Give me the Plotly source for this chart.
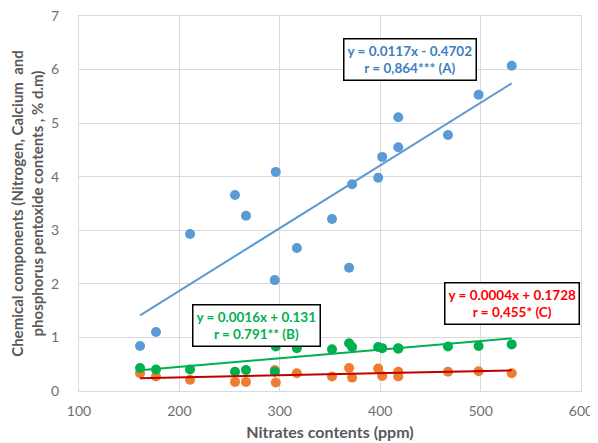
import plotly.graph_objects as go

# Data
nitrates = [160.8, 176.7, 210.6, 255.4, 266.3, 295, 296, 317, 352, 369, 372, 398, 402, 418, 418, 467.5, 498, 531]
nitrogen = [0.84, 1.10, 2.93, 3.66, 3.27, 2.07, 4.09, 2.67, 3.21, 2.30, 3.86, 3.98, 4.37, 4.55, 5.11, 4.78, 5.53, 6.07]
calcium = [0.43, 0.40, 0.40, 0.36, 0.39, 0.36, 0.83, 0.80, 0.78, 0.89, 0.82, 0.82, 0.80, 0.80, 0.79, 0.83, 0.84, 0.87]
phosphorus = [0.33, 0.27, 0.21, 0.17, 0.17, 0.39, 0.16, 0.33, 0.27, 0.43, 0.25, 0.42, 0.28, 0.36, 0.27, 0.36, 0.37, 0.33]

# Trendline coefficients (slope, intercept) as printed on the chart
trend_a = (0.0117, -0.4702)
trend_b = (0.0016, 0.131)
trend_c = (0.0004, 0.1728)

x_ticks = [100, 200, 300, 400, 500, 600]
y_ticks = [0, 1, 2, 3, 4, 5, 6, 7]

BLUE = "#5B9BD5"
ORANGE = "#ED7D31"
GREEN = "#00B050"
DARKRED = "#C00000"
FONT = "Lato"

xmin, xmax = min(nitrates), max(nitrates)
tx = [xmin, xmax]

fig = go.Figure()
for ys, col in [(nitrogen, BLUE), (phosphorus, ORANGE), (calcium, GREEN)]:
    fig.add_trace(go.Scatter(x=nitrates, y=ys, mode="markers",
                             marker=dict(color=col, size=10), showlegend=False))

for (m, b), col in [(trend_a, BLUE), (trend_b, GREEN), (trend_c, DARKRED)]:
    fig.add_trace(go.Scatter(x=tx, y=[m * v + b for v in tx], mode="lines",
                             line=dict(color=col, width=2), showlegend=False))

def box(x, y, text, color):
    fig.add_annotation(x=x, y=y, xref="x", yref="y", text=text, showarrow=False,
                       font=dict(family=FONT, size=13.5, color=color),
                       bgcolor="white", bordercolor="black", borderwidth=1.5,
                       borderpad=3, align="center")

box(430, 6.18, "<b>y = 0.0117x - 0.4702<br>r = 0,864*** (A)</b>", "#3D7FC1")
box(276.8, 1.22, "<b>y = 0.0016x + 0.131<br>r = 0.791** (B)</b>", GREEN)
box(531, 1.64, "<b>y = 0.0004x + 0.1728<br>r = 0,455* (C)</b>", "#FF0000")

grid = "#D9D9D9"
fig.update_layout(
    width=590, height=435,
    margin=dict(l=71, r=17, t=8, b=52),
    paper_bgcolor="white", plot_bgcolor="white",
    font=dict(family=FONT, color="#595959", size=13),
    xaxis=dict(range=[100, 600], tickvals=x_ticks, showgrid=True, gridcolor=grid,
               zeroline=False, showline=True, linecolor=grid, mirror=True,
               automargin=False, ticklabelstandoff=7, ticklabeloverflow="allow",
               tickfont=dict(size=14, color="#6f6f6f"), ticks="",
               title=dict(text="<b>Nitrates contents (ppm)</b>", font=dict(size=16, color="#595959"), standoff=9)),
    yaxis=dict(range=[0, 7], tickvals=y_ticks, showgrid=True, gridcolor=grid,
               zeroline=False, showline=True, linecolor=grid, mirror=True,
               automargin=False, ticklabelstandoff=16, ticklabeloverflow="allow",
               tickfont=dict(size=14, color="#6f6f6f"), ticks="",
               title=dict(text="<b>Chemical components (Nitrogen, Calcium  and<br>phosphorus pentoxide contents , % d.m)</b>",
                          font=dict(size=15, color="#595959"), standoff=4)),
)

fig.write_html("out.html")
